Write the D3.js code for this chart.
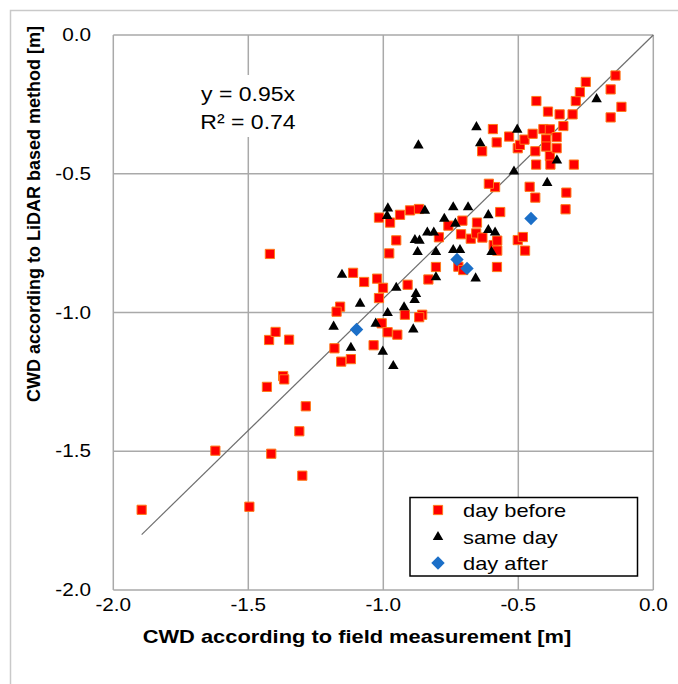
<!doctype html>
<html>
<head>
<meta charset="utf-8">
<script src="https://cdn.jsdelivr.net/npm/d3@7"></script>
<style>
  body { margin: 0; background: #fff; }
  text { font-family: "Liberation Sans", Arial, sans-serif; fill: #000; }
</style>
</head>
<body>
<svg width="678" height="684" id="chart"></svg>
<script>
    // data: [field, lidar] in metres
    var dayBefore = [
        [-1.895,-1.711],[-1.496,-1.700],[-1.622,-1.498],[-1.415,-1.509],[-1.300,-1.588],
        [-1.311,-1.428],[-1.287,-1.338],[-1.431,-1.268],[-1.371,-1.229],[-1.367,-1.241],
        [-1.423,-1.099],[-1.399,-1.070],[-1.349,-1.098],[-1.420,-0.789],[-1.181,-1.129],
        [-1.156,-1.177],[-1.120,-1.168],[-1.036,-1.118],[-1.006,-1.039],[-0.984,-1.071],
        [-0.948,-1.080],[-1.160,-0.979],[-1.173,-0.997],[-1.016,-0.948],[-1.112,-0.857],
        [-1.071,-0.890],[-1.023,-0.878],[-1.001,-0.911],[-0.910,-0.900],[-0.978,-0.787],
        [-0.952,-0.740],[-1.016,-0.658],[-0.975,-0.676],[-0.938,-0.648],[-0.901,-0.632],
        [-0.868,-0.627],[-0.920,-1.008],[-0.856,-1.008],[-0.867,-1.017],[-0.833,-0.881],
        [-0.805,-0.836],[-0.794,-0.729],[-0.759,-0.687],[-0.707,-0.669],[-0.653,-0.676],
        [-0.712,-0.718],[-0.676,-0.734],[-0.656,-0.715],[-0.633,-0.730],[-0.722,-0.835],
        [-0.704,-0.847],[-0.591,-0.757],[-0.578,-0.741],[-0.578,-0.777],[-0.579,-0.836],
        [-0.567,-0.638],[-0.586,-0.548],[-0.609,-0.536],[-0.502,-0.739],[-0.483,-0.728],
        [-0.475,-0.777],[-0.458,-0.547],[-0.437,-0.586],[-0.322,-0.568],[-0.325,-0.628],
        [-0.634,-0.419],[-0.580,-0.387],[-0.594,-0.339],[-0.534,-0.366],[-0.502,-0.408],
        [-0.494,-0.396],[-0.477,-0.377],[-0.447,-0.356],[-0.433,-0.238],[-0.437,-0.419],
        [-0.434,-0.467],[-0.407,-0.339],[-0.383,-0.340],[-0.397,-0.376],[-0.397,-0.402],
        [-0.383,-0.436],[-0.381,-0.467],[-0.390,-0.276],[-0.358,-0.368],[-0.358,-0.408],
        [-0.347,-0.286],[-0.333,-0.328],[-0.299,-0.286],[-0.294,-0.467],[-0.287,-0.238],
        [-0.272,-0.206],[-0.250,-0.169],[-0.158,-0.196],[-0.140,-0.146],[-0.118,-0.259],
        [-0.158,-0.297]
    ];
    var sameDay = [
        [-1.086,-0.968],[-1.184,-1.051],[-1.120,-1.127],[-1.028,-1.040],[-1.002,-1.141],
        [-0.984,-1.002],[-0.963,-1.193],[-0.983,-0.625],[-0.986,-0.652],[-0.883,-0.739],
        [-0.866,-0.741],[-0.873,-0.782],[-1.153,-0.864],[-0.952,-0.911],[-0.879,-0.933],
        [-0.884,-0.955],[-0.923,-0.981],[-0.889,-1.061],[-0.846,-0.633],[-0.741,-0.621],
        [-0.686,-0.621],[-0.774,-0.662],[-0.733,-0.680],[-0.611,-0.649],[-0.837,-0.712],
        [-0.813,-0.712],[-0.805,-0.782],[-0.741,-0.775],[-0.716,-0.775],[-0.599,-0.782],
        [-0.611,-0.703],[-0.586,-0.712],[-0.805,-0.873],[-0.658,-0.877],[-0.870,-0.398],
        [-0.655,-0.332],[-0.504,-0.341],[-0.641,-0.390],[-0.357,-0.452],[-0.516,-0.492],
        [-0.393,-0.533],[-0.210,-0.231]
    ];
    var dayAfter = [
        [-1.099,-1.061],[-0.727,-0.809],[-0.690,-0.841],[-0.453,-0.661]
    ];
    var ticks = [-2.0, -1.5, -1.0, -0.5, 0.0];
    var slope = 0.95;
    var seriesNames = ["day before", "same day", "day after"];

    var svg = d3.select("#chart");
    var stretch = 1.15;

    // outer frame
    svg.append("rect")
       .attr("x", 10.5).attr("y", 10.5)
       .attr("width", 700).attr("height", 700)
       .attr("fill", "none").attr("stroke", "#c9c9c9").attr("stroke-width", 1.5);

    var xScale = d3.scaleLinear().domain([-2, 0]).range([113.3, 653.3]),
        yScale = d3.scaleLinear().domain([-2, 0]).range([590, 35]);

    // grid
    var grid = svg.append("g");
    grid.selectAll(".vx").data(ticks).enter().append("line")
        .attr("x1", function(d) { return xScale(d); })
        .attr("x2", function(d) { return xScale(d); })
        .attr("y1", yScale(0)).attr("y2", yScale(-2))
        .attr("stroke", "#a9a9a9").attr("stroke-width", 1.5);
    grid.selectAll(".hy").data(ticks).enter().append("line")
        .attr("y1", function(d) { return yScale(d); })
        .attr("y2", function(d) { return yScale(d); })
        .attr("x1", xScale(-2)).attr("x2", xScale(0))
        .attr("stroke", "#a9a9a9").attr("stroke-width", 1.5);

    // tick labels
    var fmt = function(d) { return d3.format(".1f")(d).replace("−", "-"); };
    var lab = svg.append("g").attr("class", "stretch");
    lab.selectAll(".yl").data(ticks).enter().append("text")
        .attr("x", 91).attr("y", function(d) { return yScale(d) + 6; })
        .attr("text-anchor", "end").attr("font-size", "18px")
        .text(fmt);
    lab.selectAll(".xl").data(ticks).enter().append("text")
        .attr("x", function(d) { return xScale(d); }).attr("y", 611)
        .attr("text-anchor", "middle").attr("font-size", "18px")
        .text(fmt);

    // axis titles
    svg.append("text")
       .attr("transform", "translate(40,214) rotate(-90)")
       .attr("text-anchor", "middle").attr("font-size", "18px").attr("font-weight", "bold")
       .text("CWD according to LiDAR based method [m]");
    svg.append("text").attr("class", "stretch")
       .attr("x", 357).attr("y", 643)
       .attr("text-anchor", "middle").attr("font-size", "19px").attr("font-weight", "bold")
       .text("CWD according to field measurement [m]");

    // trend line y = 0.95x
    var xMin = d3.min(dayBefore.concat(sameDay, dayAfter), function(d) { return d[0]; });
    svg.append("line")
       .attr("x1", xScale(xMin)).attr("y1", yScale(slope * xMin))
       .attr("x2", xScale(0)).attr("y2", yScale(0))
       .attr("stroke", "#6e6e6e").attr("stroke-width", 1.2);

    // equation label
    svg.append("rect").attr("x", 196).attr("y", 75).attr("width", 104).attr("height", 62)
       .attr("fill", "#fff");
    var eq = svg.append("g").attr("class", "stretch");
    eq.append("text").attr("x", 248).attr("y", 101).attr("text-anchor", "middle")
      .attr("font-size", "20px").text("y = " + slope + "x");
    eq.append("text").attr("x", 248).attr("y", 129).attr("text-anchor", "middle")
      .attr("font-size", "20px").text("R² = 0.74");

    // markers
    var sq = d3.symbol().type(d3.symbolSquare).size(85);
    var tri = d3.symbol().type(d3.symbolTriangle).size(48);
    var dia = d3.symbol().type(d3.symbolSquare).size(90);

    svg.append("g").selectAll("path").data(dayBefore).enter().append("path")
       .attr("d", sq)
       .attr("transform", function(d) { return "translate(" + xScale(d[0]) + "," + yScale(d[1]) + ")"; })
       .attr("fill", "#ff0000").attr("stroke", "#ff7a1a").attr("stroke-width", 1);
    svg.append("g").selectAll("path").data(sameDay).enter().append("path")
       .attr("d", tri)
       .attr("transform", function(d) { return "translate(" + xScale(d[0]) + "," + yScale(d[1]) + ")"; })
       .attr("fill", "#000");
    svg.append("g").selectAll("path").data(dayAfter).enter().append("path")
       .attr("d", dia)
       .attr("transform", function(d) { return "translate(" + xScale(d[0]) + "," + yScale(d[1]) + ") rotate(45)"; })
       .attr("fill", "#1b6fc8");

    // legend
    var lg = svg.append("g");
    lg.append("rect").attr("x", 410).attr("y", 497.5).attr("width", 227.5).attr("height", 78.5)
      .attr("fill", "#fff").attr("stroke", "#000").attr("stroke-width", 1.5);
    var rows = [510, 537, 563];
    lg.append("path").attr("d", sq).attr("transform", "translate(438," + rows[0] + ")")
      .attr("fill", "#ff0000").attr("stroke", "#ff7a1a");
    lg.append("path").attr("d", tri).attr("transform", "translate(438," + rows[1] + ")")
      .attr("fill", "#000");
    lg.append("path").attr("d", dia).attr("transform", "translate(438," + rows[2] + ") rotate(45)")
      .attr("fill", "#1b6fc8");
    lg.append("g").attr("class", "stretch").selectAll("text").data(seriesNames).enter().append("text")
      .attr("x", 463).attr("y", function(d, i) { return rows[i] + 7; })
      .attr("font-size", "19px").text(function(d) { return d; });

    // the original picture is a little wider than tall, stretch the text to match
    svg.selectAll(".stretch text, text.stretch").each(function() {
        var w = this.getComputedTextLength();
        d3.select(this).attr("textLength", w * stretch).attr("lengthAdjust", "spacingAndGlyphs");
    });
</script>
</body>
</html>
